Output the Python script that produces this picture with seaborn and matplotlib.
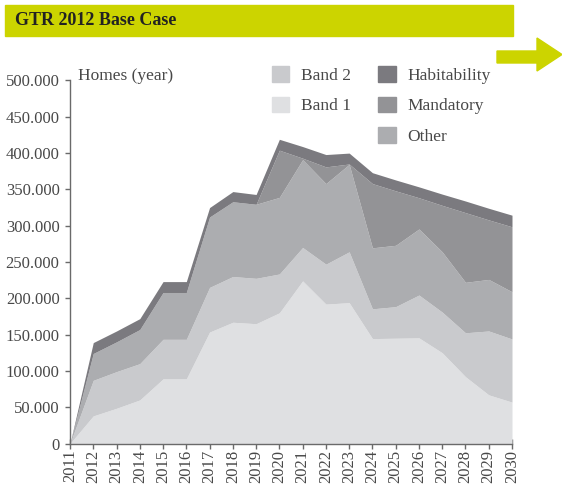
import numpy as np
import pandas as pd
import matplotlib.pyplot as plt
import seaborn as sns
from matplotlib.patches import Rectangle, Polygon, Patch
from matplotlib.ticker import FuncFormatter

# data (homes per year)
years = list(range(2011, 2031))
band1 = [0, 38000, 48500, 60000, 89000, 89000, 153500, 167000, 165000, 180000,
         224000, 192000, 194000, 144500, 145000, 145500, 125000, 92000, 67000, 57000]
band2 = [0, 49000, 50500, 50000, 54500, 54500, 61500, 63000, 62500, 53500,
         46000, 55000, 70000, 41000, 43500, 59000, 56000, 60500, 88000, 87000]
other = [0, 37000, 41000, 47000, 64500, 64500, 97000, 103000, 102000, 105500,
         121000, 111000, 120500, 84000, 84500, 91000, 83000, 69500, 71000, 65000]
mandatory = [0, 0, 0, 0, 0, 0, 0, 0, 0, 65000,
             2000, 23000, 500, 88500, 75000, 43000, 64000, 96000, 82000, 89500]
habitability = [0, 15000, 15000, 15000, 15000, 15000, 13000, 14000, 13500, 15000,
                16000, 17000, 15000, 15000, 15000, 15000, 15500, 16000, 16000, 16000]

series = ["Habitability", "Mandatory", "Other", "Band 2", "Band 1"]
colors = {"Band 1": "#dfe0e2", "Band 2": "#c9cacd", "Other": "#acadb0",
          "Mandatory": "#939396", "Habitability": "#7b7a7f"}

df = pd.concat([
    pd.DataFrame({"year": years, "homes": vals, "series": name})
    for name, vals in zip(series, [habitability, mandatory, other, band2, band1])
])

sns.set_theme(style="white")
plt.rcParams['font.family'] = ['Liberation Serif', 'DejaVu Serif']
txt = "#484848"

fig = plt.figure(figsize=(5.62, 4.86), dpi=100)
ax = fig.add_axes([70 / 562, 1 - 443.5 / 486, 442 / 562, 363 / 486])

# stacked areas (last hue level ends up at the bottom)
sns.histplot(data=df, x="year", weights="homes", hue="series", hue_order=series,
             palette=colors, multiple="stack", element="poly", discrete=True,
             alpha=1, linewidth=0, legend=False, ax=ax)

ax.set_xlim(2011, 2030)
ax.set_ylim(0, 500000)
ax.set_xticks(years)
ax.set_xticklabels([str(y) for y in years], rotation=90, fontsize=12, color=txt)
ax.set_yticks(np.arange(0, 500001, 50000))
ax.yaxis.set_major_formatter(FuncFormatter(lambda v, p: f"{int(v):,}".replace(",", ".")))
ax.tick_params(axis="y", labelsize=12, labelcolor=txt, length=3.5, width=1,
               color="#6a6a6a", direction="out", left=True, pad=4)
ax.tick_params(axis="x", length=7, width=1, color="#6a6a6a", direction="inout",
               bottom=True, pad=1)
ax.set_xlabel("")
ax.set_ylabel("")
sns.despine(ax=ax)
for s in ["left", "bottom"]:
    ax.spines[s].set_color("#6a6a6a")
    ax.spines[s].set_linewidth(1)
ax.grid(False)

ax.text(8 / 442, 1 + 4 / 363, "Homes (year)", transform=ax.transAxes,
        fontsize=12.5, color=txt, va="center", ha="left")

# legend: two columns, blank slot under Band 1
handles = [Patch(color=colors["Band 2"]), Patch(color=colors["Band 1"]),
           Patch(color="none"),
           Patch(color=colors["Habitability"]), Patch(color=colors["Mandatory"]),
           Patch(color=colors["Other"])]
labels = ["Band 2", "Band 1", "", "Habitability", "Mandatory", "Other"]
leg = fig.legend(handles, labels, ncol=2, loc="upper left",
                 bbox_to_anchor=(272 / 562, 1 - 66 / 486), frameon=False,
                 fontsize=12.5, handlelength=1.0, handleheight=1.0,
                 handletextpad=0.65, labelspacing=0.75, columnspacing=1.6,
                 borderpad=0, borderaxespad=0)
for t in leg.get_texts():
    t.set_color(txt)

# title banner and arrow
green = "#ccd400"
fig.patches.append(Rectangle((5 / 562, 1 - 36 / 486), 508 / 562, 31 / 486,
                             transform=fig.transFigure, color=green, zorder=0))
fig.text(15 / 562, 1 - 20.5 / 486, "GTR 2012 Base Case", fontsize=13,
         fontweight="bold", color="#222222", va="center", ha="left")
pts = [(497, 51), (537, 51), (537, 38), (562, 54.5), (537, 71), (537, 63), (497, 63)]
fig.patches.append(Polygon([(x / 562, 1 - y / 486) for x, y in pts], closed=True,
                           transform=fig.transFigure, color=green))

fig.savefig("out.png", dpi=100)
